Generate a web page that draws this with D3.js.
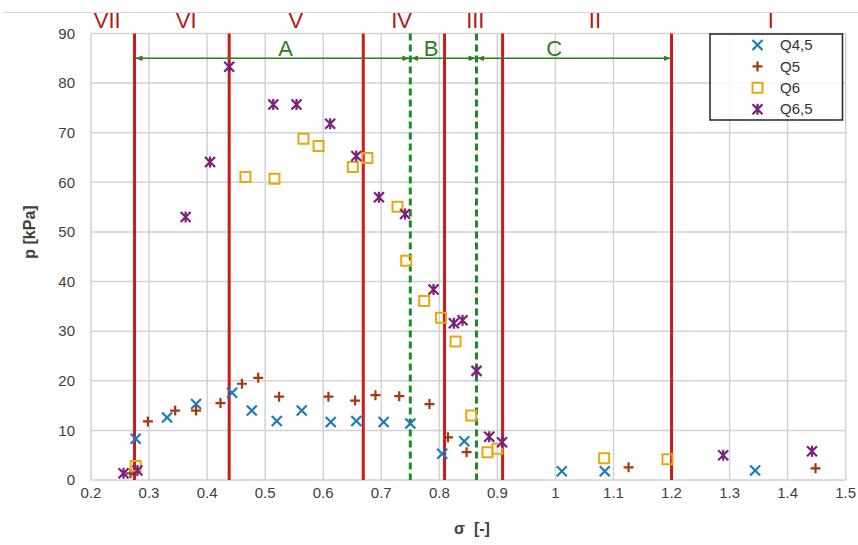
<!DOCTYPE html>
<html>
<head>
<meta charset="utf-8">
<script src="https://cdn.jsdelivr.net/npm/d3@7"></script>
<style>
  html, body { margin: 0; padding: 0; background: #fff; }
  svg { display: block; }
  text { font-family: "Liberation Sans", Arial, sans-serif; }
</style>
</head>
<body>
<svg id="chart" width="858" height="545"></svg>
<script>
// Pressure p versus cavitation number sigma for four flow rates
const q45Sigma = [0.277, 0.331, 0.381, 0.443, 0.477, 0.520, 0.563, 0.613, 0.657, 0.704, 0.750, 0.805, 0.843, 1.011, 1.085, 1.344];
const q45P     = [8.3, 12.6, 15.3, 17.6, 14.0, 11.9, 14.0, 11.7, 11.9, 11.7, 11.4, 5.3, 7.8, 1.75, 1.75, 1.9];

const q5Sigma = [0.268, 0.298, 0.345, 0.381, 0.423, 0.460, 0.488, 0.524, 0.609, 0.655, 0.690, 0.731, 0.783, 0.815, 0.847, 1.126, 1.448];
const q5P     = [1.35, 11.8, 14.0, 14.0, 15.5, 19.4, 20.6, 16.8, 16.8, 16.0, 17.1, 16.9, 15.3, 8.6, 5.6, 2.55, 2.35];

const q6Sigma = [0.277, 0.466, 0.516, 0.566, 0.592, 0.651, 0.676, 0.728, 0.743, 0.774, 0.803, 0.828, 0.855, 0.883, 0.900, 1.084, 1.193];
const q6P     = [2.8, 61.1, 60.7, 68.8, 67.3, 63.1, 64.9, 55.1, 44.2, 36.1, 32.7, 27.9, 13.0, 5.6, 6.3, 4.4, 4.2];

const q65Sigma = [0.256, 0.280, 0.363, 0.405, 0.438, 0.514, 0.554, 0.612, 0.657, 0.696, 0.741, 0.790, 0.825, 0.840, 0.864, 0.886, 0.908, 1.289, 1.442];
const q65P     = [1.35, 1.9, 53.0, 64.1, 83.3, 75.7, 75.7, 71.8, 65.3, 57.0, 53.6, 38.4, 31.6, 32.2, 22.0, 8.7, 7.6, 5.0, 5.8];

const seriesNames = ["Q4,5", "Q5", "Q6", "Q6,5"];

// Regime boundaries (solid) and zone boundaries (dashed)
const regimeBounds = [0.275, 0.438, 0.669, 0.809, 0.909, 1.2];
const zoneBounds = [0.75, 0.864];
const regimeLabels = ["VII", "VI", "V", "IV", "III", "II", "I"];
const regimeLabelSigma = [0.228, 0.364, 0.553, 0.735, 0.862, 1.068, 1.371];
const zoneLabels = ["A", "B", "C"];
const zoneStart = [0.275, 0.75, 0.864];
const zoneEnd = [0.75, 0.864, 1.2];
const zoneArrowP = 85;

const xTicks = [0.2, 0.3, 0.4, 0.5, 0.6, 0.7, 0.8, 0.9, 1.0, 1.1, 1.2, 1.3, 1.4, 1.5];
const yTicks = [0, 10, 20, 30, 40, 50, 60, 70, 80, 90];

const svg = d3.select("#chart");
const x = d3.scaleLinear().domain([0.2, 1.5]).range([91, 845.7]);
const y = d3.scaleLinear().domain([0, 90]).range([480, 33.5]);

const colors = ["#1b7bbd", "#a8380c", "#e8a70f", "#7a1f7c"];
const gridColor = "#d2d2d2";
const red = "#cc1a1a";
const green = "#2f7d1f";

// top frame line
svg.append("line").attr("x1", 4).attr("x2", 858).attr("y1", 12.5).attr("y2", 12.5)
  .attr("stroke", "#dadada").attr("stroke-width", 1.2);

// gridlines
const grid = svg.append("g");
grid.selectAll(".gx").data(xTicks).join("line")
  .attr("x1", d => x(d)).attr("x2", d => x(d))
  .attr("y1", y(90)).attr("y2", y(0))
  .attr("stroke", gridColor).attr("stroke-width", 1.5);
grid.selectAll(".gy").data(yTicks).join("line")
  .attr("x1", x(0.2)).attr("x2", x(1.5))
  .attr("y1", d => y(d)).attr("y2", d => y(d))
  .attr("stroke", gridColor).attr("stroke-width", 1.5);

// tick labels
svg.append("g").selectAll("text").data(yTicks).join("text")
  .attr("x", 75).attr("y", d => y(d)).attr("dy", "0.35em")
  .attr("text-anchor", "end").attr("font-size", 15).attr("fill", "#404040")
  .text(d => d);
svg.append("g").selectAll("text").data(xTicks).join("text")
  .attr("x", d => x(d)).attr("y", 493).attr("dy", "0.35em")
  .attr("text-anchor", "middle").attr("font-size", 15).attr("fill", "#404040")
  .text(d => d3.format("~g")(d));

// axis titles
svg.append("text").attr("x", 472).attr("y", 528).attr("dy", "0.35em")
  .attr("text-anchor", "middle").attr("font-size", 16).attr("font-weight", "bold").attr("fill", "#404040")
  .attr("xml:space", "preserve").text("σ  [-]");
svg.append("text").attr("transform", "translate(29,232) rotate(-90)").attr("dy", "0.35em")
  .attr("text-anchor", "middle").attr("font-size", 16).attr("font-weight", "bold").attr("fill", "#404040")
  .text("p [kPa]");

// regime boundaries
svg.append("g").selectAll("line").data(regimeBounds).join("line")
  .attr("x1", d => x(d)).attr("x2", d => x(d))
  .attr("y1", y(90)).attr("y2", y(0))
  .attr("stroke", red).attr("stroke-width", 3);
svg.append("g").selectAll("line").data(zoneBounds).join("line")
  .attr("x1", d => x(d)).attr("x2", d => x(d))
  .attr("y1", y(90)).attr("y2", y(0))
  .attr("stroke", "#1a8a2a").attr("stroke-width", 3).attr("stroke-dasharray", "7,4");

// regime labels
svg.append("g").selectAll("text").data(regimeLabels).join("text")
  .attr("x", (d, i) => x(regimeLabelSigma[i])).attr("y", 20).attr("dy", "0.35em")
  .attr("text-anchor", "middle").attr("font-size", 22).attr("fill", "#b01818")
  .text(d => d);

// zone arrows
const defs = svg.append("defs");
defs.append("marker").attr("id", "ah").attr("viewBox", "0 0 10 10")
  .attr("refX", 10).attr("refY", 5).attr("markerWidth", 7).attr("markerHeight", 7)
  .attr("markerUnits", "userSpaceOnUse").attr("orient", "auto-start-reverse")
  .append("path").attr("d", "M0,1 L10,5 L0,9 Z").attr("fill", green);
const za = svg.append("g");
za.selectAll("line").data(zoneLabels).join("line")
  .attr("x1", (d, i) => x(zoneStart[i]) + 1).attr("x2", (d, i) => x(zoneEnd[i]) - 1)
  .attr("y1", y(zoneArrowP)).attr("y2", y(zoneArrowP))
  .attr("stroke", green).attr("stroke-width", 1.5)
  .attr("marker-start", "url(#ah)").attr("marker-end", "url(#ah)");
const zoneLabelSigma = [0.535, 0.786, 0.998];
za.selectAll("text").data(zoneLabels).join("text")
  .attr("x", (d, i) => x(zoneLabelSigma[i])).attr("y", 48).attr("dy", "0.35em")
  .attr("text-anchor", "middle").attr("font-size", 22).attr("fill", green)
  .text(d => d);

// marker shapes
function markerPath(type) {
  const s = 5;
  if (type === 0) return `M${-s},${-s}L${s},${s}M${-s},${s}L${s},${-s}`;
  if (type === 1) return `M${-s},0L${s},0M0,${-s}L0,${s}`;
  if (type === 2) return `M-5,-5H5V5H-5Z`;
  return `M${-s},${-s}L${s},${s}M${-s},${s}L${s},${-s}M0,${-s - 0.5}V${s + 0.5}`;
}
function drawMarkers(g, sx, py, type) {
  const color = colors[type];
  g.selectAll("path").data(sx.map((d, i) => [d, py[i]])).join("path")
    .attr("transform", d => `translate(${x(d[0])},${y(d[1])})`)
    .attr("d", markerPath(type))
    .attr("fill", "none").attr("stroke", color)
    .attr("stroke-width", type === 2 ? 2 : 2.2);
}
const sigmas = [q45Sigma, q5Sigma, q6Sigma, q65Sigma];
const ps = [q45P, q5P, q6P, q65P];
sigmas.forEach((s, k) => drawMarkers(svg.append("g"), s, ps[k], k));

// legend
const lg = svg.append("g");
lg.append("rect").attr("x", 710).attr("y", 34).attr("width", 132.5).attr("height", 86)
  .attr("fill", "#ffffff").attr("fill-opacity", 0.85)
  .attr("stroke", "#1c2333").attr("stroke-width", 1.5);
seriesNames.forEach((name, k) => {
  const cy = 45 + k * 21.4;
  lg.append("path").attr("transform", `translate(757.5,${cy})`)
    .attr("d", markerPath(k)).attr("fill", "none").attr("stroke", colors[k])
    .attr("stroke-width", k === 2 ? 2 : 2.2);
  lg.append("text").attr("x", 780).attr("y", cy).attr("dy", "0.35em")
    .attr("font-size", 15).attr("fill", "#333").text(name);
});
</script>
</body>
</html>
